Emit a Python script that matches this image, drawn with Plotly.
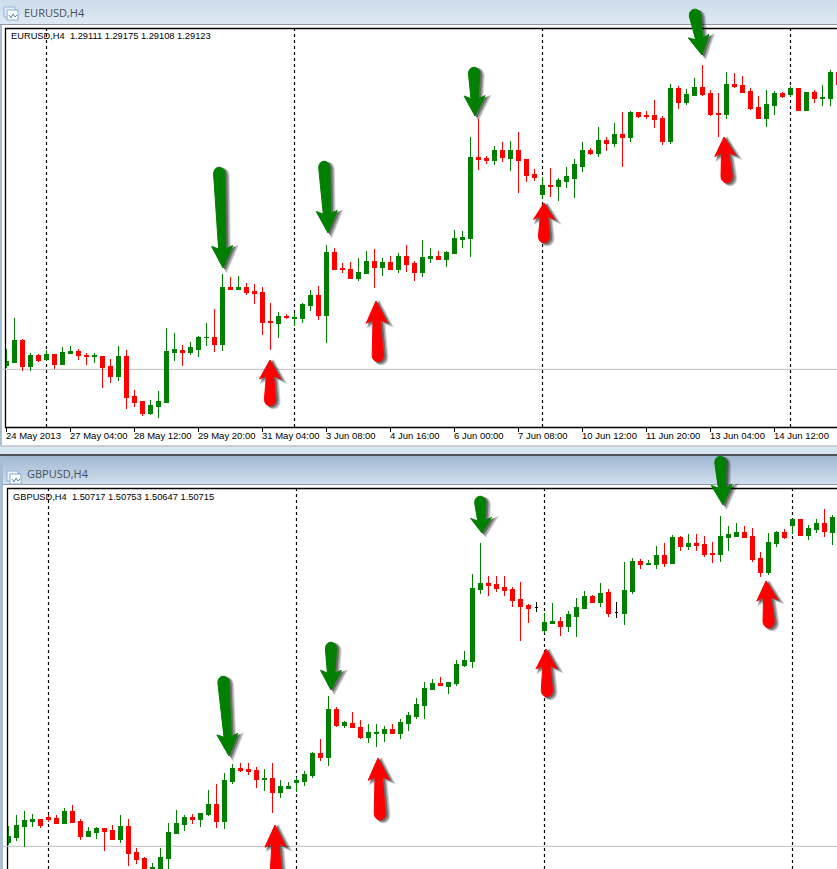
import math
import plotly.graph_objects as go

W, H = 837, 869

# Prices are read off the picture as offsets from the grey price line of each chart
# (the screenshot shows no price scale), in thirds of a screen pixel.
eur_high = [61,154,91,49,46,58,46,67,70,61,49,49,40,31,70,58,-62,-95,-92,-65,124,109,73,82,100,139,181,286,277,280,259,256,247,199,172,165,170,199,238,250,373,364,319,322,334,355,361,334,340,349,373,325,388,364,355,355,418,415,697,751,640,670,682,685,712,631,601,577,604,574,607,631,682,664,727,697,739,772,775,772,775,808,760,856,850,841,874,913,838,829,892,889,880,844,820,838,835,832,850,844,832,838,853,898,892]
eur_top = [25,88,88,43,43,46,46,52,55,55,43,43,40,10,40,40,-80,-95,-107,-95,55,61,58,67,97,97,97,247,247,247,247,235,232,145,160,160,156,196,223,223,352,352,304,301,292,325,325,322,322,340,340,319,337,340,340,352,394,397,637,637,634,658,658,658,658,631,586,553,553,568,580,616,658,658,688,688,706,706,772,772,763,763,754,844,844,826,847,847,829,769,856,856,853,835,787,796,829,829,844,844,832,832,817,892,892]
eur_bottom = [13,22,10,10,28,31,16,16,49,43,38,38,7,-20,-20,-83,-98,-131,-131,-110,-98,52,52,52,61,95,76,76,241,241,232,229,142,140,139,156,152,154,193,163,163,301,300,274,274,289,307,307,301,301,316,292,292,334,331,331,349,391,394,631,628,628,637,634,628,583,577,526,549,550,565,574,610,649,649,679,679,697,697,760,760,751,685,685,802,802,823,826,766,766,766,850,832,784,754,754,793,820,826,778,778,814,814,814,856]
eur_low = [5,19,-5,-5,22,25,1,13,49,28,13,19,-56,-41,-35,-119,-113,-140,-137,-146,-98,25,10,43,37,70,52,55,238,238,223,196,103,58,94,150,130,139,175,148,79,298,289,274,265,289,244,280,301,289,292,265,277,319,331,307,346,364,337,598,616,613,622,595,529,562,565,511,517,505,544,514,592,643,637,655,667,607,682,754,751,724,673,676,781,793,820,820,760,697,751,844,829,778,751,727,763,814,817,778,775,799,790,790,856]
eur_dir = "GGRGRGRGGR" "RGRRGRRRGG" "GGRGGGRGRG" "RRRRGRGGGR" "GRRRGGRGRG" "RRGGRGGGGR" "RGRGRRRGRG" "GGGRGRGRGR" "RRRGRGGRRR" "GRRRRGGRGR" "GRGGR"

gbp_high = [61,94,106,97,82,94,94,115,124,82,58,58,55,64,94,82,-5,-32,-50,-5,70,109,94,97,100,169,187,220,247,250,250,238,232,250,199,193,208,226,283,322,451,418,376,403,379,367,367,361,367,382,403,445,493,502,508,493,559,586,817,910,811,811,811,778,793,727,733,700,730,688,706,745,766,754,790,772,733,853,865,862,859,901,910,934,931,937,937,931,913,991,961,970,961,955,883,940,946,952,982,982,964,982,1012,994]
gbp_top = [31,64,79,82,82,88,85,106,106,76,46,55,55,49,61,61,-17,-35,-62,-32,43,70,88,88,100,127,127,199,235,235,232,229,205,205,181,181,199,217,280,280,412,412,373,370,358,343,343,352,352,373,394,427,475,490,490,493,547,559,775,790,790,787,778,772,742,724,718,673,676,676,697,718,751,751,760,763,703,769,856,856,850,874,874,928,928,910,910,907,880,931,937,943,943,931,865,913,943,943,982,982,955,970,970,988]
gbp_bottom = [13,28,61,76,64,82,70,70,73,31,31,43,46,22,22,-20,-38,-85,-90,-65,-35,40,67,82,82,97,76,76,196,229,226,202,202,163,163,175,193,196,214,268,268,364,364,358,328,328,340,340,340,340,370,391,424,472,484,481,490,544,556,772,784,775,769,739,721,715,718,649,670,661,661,691,715,733,733,700,703,700,766,847,847,847,850,850,901,901,904,877,877,877,928,931,928,862,823,823,910,928,964,934,934,952,946,943]
gbp_low = [4,16,-2,58,55,73,67,67,73,19,28,22,-14,22,10,-59,-53,-95,-100,-85,-75,37,46,67,58,91,55,52,187,223,214,175,166,100,145,175,163,181,205,256,241,358,355,355,322,310,298,313,340,322,346,382,382,472,481,457,481,538,535,757,751,763,751,718,616,670,703,640,670,631,643,628,712,730,718,688,685,664,757,832,844,832,838,847,886,889,886,868,850,853,886,931,928,853,808,814,898,922,937,934,919,940,928,904]
gbp_dir = "GGGGRRRGRR" "GGRRGRRRGG" "GGGRGGRGGR" "RRGRGGGGGR" "GRGRRGGGRG" "GGGGRGGGGG" "RRRRRRKGGR" "GGGRGRKGGR" "GGRGRGRRRG" "GGRRRGGRGR" "GGRG"

eur_tick_bars = [0, 8, 16, 24, 32, 40, 48, 56, 64, 72, 80, 88, 96]
eur_tick_labels = ["24 May 2013", "27 May 04:00", "28 May 12:00", "29 May 20:00", "31 May 04:00",
                   "3 Jun 08:00", "4 Jun 16:00", "6 Jun 00:00", "7 Jun 08:00", "10 Jun 12:00",
                   "11 Jun 20:00", "13 Jun 04:00", "14 Jun 12:00"]
session_bars = [5, 36, 67, 98]

eur_title = "EURUSD,H4"
gbp_title = "GBPUSD,H4"
eur_info = "EURUSD,H4  1.29111 1.29175 1.29108 1.29123"
gbp_info = "GBPUSD,H4  1.50717 1.50753 1.50647 1.50715"

# Hand-drawn callout arrows: (tip px, tail px)
green_arrows = [((223, 268), (219, 168)), ((328, 233), (324, 162)), ((475, 116), (474, 68)), ((702, 55), (694, 10)),
                ((229, 756), (223, 677)), ((331, 690), (331, 643)), ((482, 533), (480, 497)), ((723, 505), (720, 457))]
red_arrows = [((270, 360), (270, 405)), ((376, 301), (378, 361)), ((544, 203), (544, 242)), ((724, 137), (727, 182)),
              ((275, 825), (276, 878)), ((378, 758), (380, 819)), ((546, 649), (547, 696)), ((766, 581), (769, 627))]

GREEN, RED = "#007f00", "#ff0000"
px_x = lambda x: x / W
px_y = lambda y: 1 - y / H

shapes, annotations = [], []


def rect(x0, y0, x1, y1, fill, line=None, lw=1, layer="below"):
    shapes.append(dict(type="rect", xref="paper", yref="paper", x0=px_x(x0), x1=px_x(x1),
                       y0=px_y(y0), y1=px_y(y1), fillcolor=fill, layer=layer,
                       line=dict(color=line, width=lw) if line else dict(width=0)))


def gradient(y0, y1, c0, c1, x0=0, x1=W):
    a = [int(c0[i:i + 2], 16) for i in (1, 3, 5)]
    b = [int(c1[i:i + 2], 16) for i in (1, 3, 5)]
    n = max(1, y1 - y0)
    for k in range(n):
        t = k / max(1, n - 1)
        col = "rgb(%d,%d,%d)" % tuple(round(a[j] + (b[j] - a[j]) * t) for j in range(3))
        rect(x0, y0 + k, x1, y0 + k + 1, col)


def icon(x, y):
    rect(x, y, x + 11, y + 10, "#eaf2fb", "#8fb0d6")
    rect(x + 3, y + 3, x + 14, y + 13, "#ffffff", "#7fa6d2")
    shapes.append(dict(type="path", xref="paper", yref="paper", xsizemode="pixel", ysizemode="pixel",
                       xanchor=px_x(x), yanchor=px_y(y), layer="below",
                       path="M 5 -8 L 7 -11 L 9 -7 L 11 -10 L 13 -8", line=dict(color="#5f7f9f", width=1)))


# Window frames
rect(0, 0, W, 24, "#d6e3f0")
gradient(0, 24, "#cddceb", "#dfe9f4")
rect(0, 24, W, 25, "#8f9aa6")
rect(0, 25, W, 445, "#ffffff")
rect(0, 25, 2, 445, "#a9bdd2")
rect(0, 445, W, 447, "#c9ced4")
rect(0, 447, W, 454, "#d8e4f0")
rect(0, 454, W, 456, "#4e5358")
gradient(456, 484, "#a0b8d2", "#cfdeed")
rect(0, 484, W, 485, "#8f9aa6")
rect(0, 485, W, H, "#ffffff")
rect(0, 456, 3, H, "#a9bdd2")
icon(4, 7)
icon(7, 471)

# Chart panes
pane_top = (5.5, 28.5, W + 5, 427.5)
pane_bot = (7.5, 488.5, W + 5, H + 5)
rect(*pane_top, "#ffffff", "#000000", 1.3)
rect(*pane_bot, "#ffffff", "#000000", 1.3)

for xr, yr, yd in (("x", "y", "y domain"), ("x2", "y2", "y2 domain")):
    shapes.append(dict(type="line", xref="paper", yref=yr, x0=0, x1=1, y0=0, y1=0, layer="below",
                       line=dict(color="#c0c0c0", width=1)))
    for b in session_bars:
        shapes.append(dict(type="line", xref=xr, yref=yd, x0=b, x1=b, y0=0, y1=1, layer="below",
                           line=dict(color="#000000", width=1.2, dash="3px,3px")))


def arrow(tip, tail, fill):
    dx, dy = tail[0] - tip[0], tail[1] - tip[1]
    L = math.hypot(dx, dy)
    ux, uy = dx / L, dy / L
    nx, ny = -uy, ux
    hl = min(22, L * 0.42)
    hw = 10.5

    def pt(a, b):
        return (a * ux + b * nx, -(a * uy + b * ny))  # y offsets grow upward in pixel mode

    seq = [("M", pt(0, 0)), ("L", pt(hl, hw)), ("L", pt(hl - 3, 3.6)), ("L", pt(L - 6, 5.6))]
    p1, p2 = pt(L + 3, 5.6), pt(L + 3, -5.6)
    e = pt(L - 6, -5.6)
    path = "M %.1f %.1f L %.1f %.1f L %.1f %.1f L %.1f %.1f " % (seq[0][1] + seq[1][1] + seq[2][1] + seq[3][1])
    path += "C %.1f %.1f %.1f %.1f %.1f %.1f " % (p1 + p2 + e)
    a, b = pt(hl - 3, -3.6), pt(hl, -hw)
    path += "L %.1f %.1f L %.1f %.1f Z" % (a + b)
    for off, op, lw in ((3.5, 0.16, 3), (3, 0.22, 2), (2, 0.35, 1)):
        shapes.append(dict(type="path", xref="paper", yref="paper", xsizemode="pixel", ysizemode="pixel",
                           xanchor=px_x(tip[0] + off), yanchor=px_y(tip[1] + off * 0.6), path=path,
                           fillcolor="#000000", opacity=op, layer="above",
                           line=dict(color="#000000", width=lw)))
    shapes.append(dict(type="path", xref="paper", yref="paper", xsizemode="pixel", ysizemode="pixel",
                       xanchor=px_x(tip[0]), yanchor=px_y(tip[1]), path=path, fillcolor=fill, layer="above",
                       line=dict(color=fill, width=1)))


for tip, tail in green_arrows:
    arrow(tip, tail, GREEN)
for tip, tail in red_arrows:
    arrow(tip, tail, RED)

# Text
TICK_FONT = dict(family="Liberation Sans", size=9.5, color="#000000")
for b, lab in zip(eur_tick_bars, eur_tick_labels):
    annotations.append(dict(text=lab, xref="x", yref="paper", x=b, y=px_y(429), xanchor="left", yanchor="top",
                            xshift=-2, showarrow=False, font=TICK_FONT, borderpad=0))
annotations += [
    dict(text=eur_info, xref="paper", yref="paper", x=px_x(10), y=px_y(36), xanchor="left", yanchor="middle",
         showarrow=False, font=dict(TICK_FONT, size=9.3), borderpad=0),
    dict(text=gbp_info, xref="paper", yref="paper", x=px_x(12), y=px_y(497), xanchor="left", yanchor="middle",
         showarrow=False, font=dict(TICK_FONT, size=9.3), borderpad=0),
    dict(text=eur_title, xref="paper", yref="paper", x=px_x(23), y=px_y(13), xanchor="left", yanchor="middle",
         showarrow=False, font=dict(family="Open Sans", size=11, color="#46505a"), borderpad=0),
    dict(text=gbp_title, xref="paper", yref="paper", x=px_x(26), y=px_y(474), xanchor="left", yanchor="middle",
         showarrow=False, font=dict(family="Open Sans", size=11, color="#46505a"), borderpad=0),
]


def candles(high, top, bottom, low, direction, xa, ya):
    assert len(high) == len(top) == len(bottom) == len(low) == len(direction), (
        len(high), len(top), len(bottom), len(low), len(direction))
    out = []
    for code, up, dn in (("GR", GREEN, RED), ("K", "#000000", "#000000")):
        idx = [i for i, d in enumerate(direction) if d in code]
        if not idx:
            continue
        out.append(go.Candlestick(
            x=idx,
            open=[bottom[i] if direction[i] != "R" else top[i] for i in idx],
            high=[high[i] for i in idx],
            low=[low[i] for i in idx],
            close=[top[i] if direction[i] != "R" else bottom[i] for i in idx],
            increasing=dict(line=dict(color=up, width=1), fillcolor=up),
            decreasing=dict(line=dict(color=dn, width=1), fillcolor=dn),
            whiskerwidth=0, xaxis=xa, yaxis=ya, showlegend=False, hoverinfo="skip"))
    return out


fig = go.Figure()
for t in candles(eur_high, eur_top, eur_bottom, eur_low, eur_dir, "x", "y"):
    fig.add_trace(t)
for t in candles(gbp_high, gbp_top, gbp_bottom, gbp_low, gbp_dir, "x2", "y2"):
    fig.add_trace(t)

blank = dict(showgrid=False, zeroline=False, showline=False, showticklabels=False, fixedrange=True)
fig.update_layout(
    width=W, height=H, margin=dict(l=0, r=0, t=0, b=0), autosize=False,
    paper_bgcolor="#ffffff", plot_bgcolor="rgba(0,0,0,0)", showlegend=False, boxgap=0.45, boxmode="overlay",
    shapes=shapes, annotations=annotations,
    xaxis=dict(blank, domain=[6 / W, 1], range=[(6 - 6.5) / 8, (837 - 6.5) / 8], anchor="y",
               tickmode="array", tickvals=eur_tick_bars, ticks="outside", ticklen=4, tickcolor="#000000",
               tickwidth=1, rangeslider=dict(visible=False)),
    yaxis=dict(blank, domain=[1 - 427 / H, 1 - 28 / H], range=[-173, 1024], anchor="x"),
    xaxis2=dict(blank, domain=[8 / W, 1], range=[(8 - 8.5) / 8, (837 - 8.5) / 8], anchor="y2",
                rangeslider=dict(visible=False)),
    yaxis2=dict(blank, domain=[0, 1 - 489 / H], range=[-68, 1072], anchor="x2"),
)
fig.write_html("out.html", config=dict(displayModeBar=False),
               post_script="document.body.style.margin='0';document.body.style.overflow='hidden';"
                           "document.querySelectorAll('.boxes path').forEach(function(p){"
                           "p.style.shapeRendering='crispEdges';p.style.strokeLinejoin='miter';});")
